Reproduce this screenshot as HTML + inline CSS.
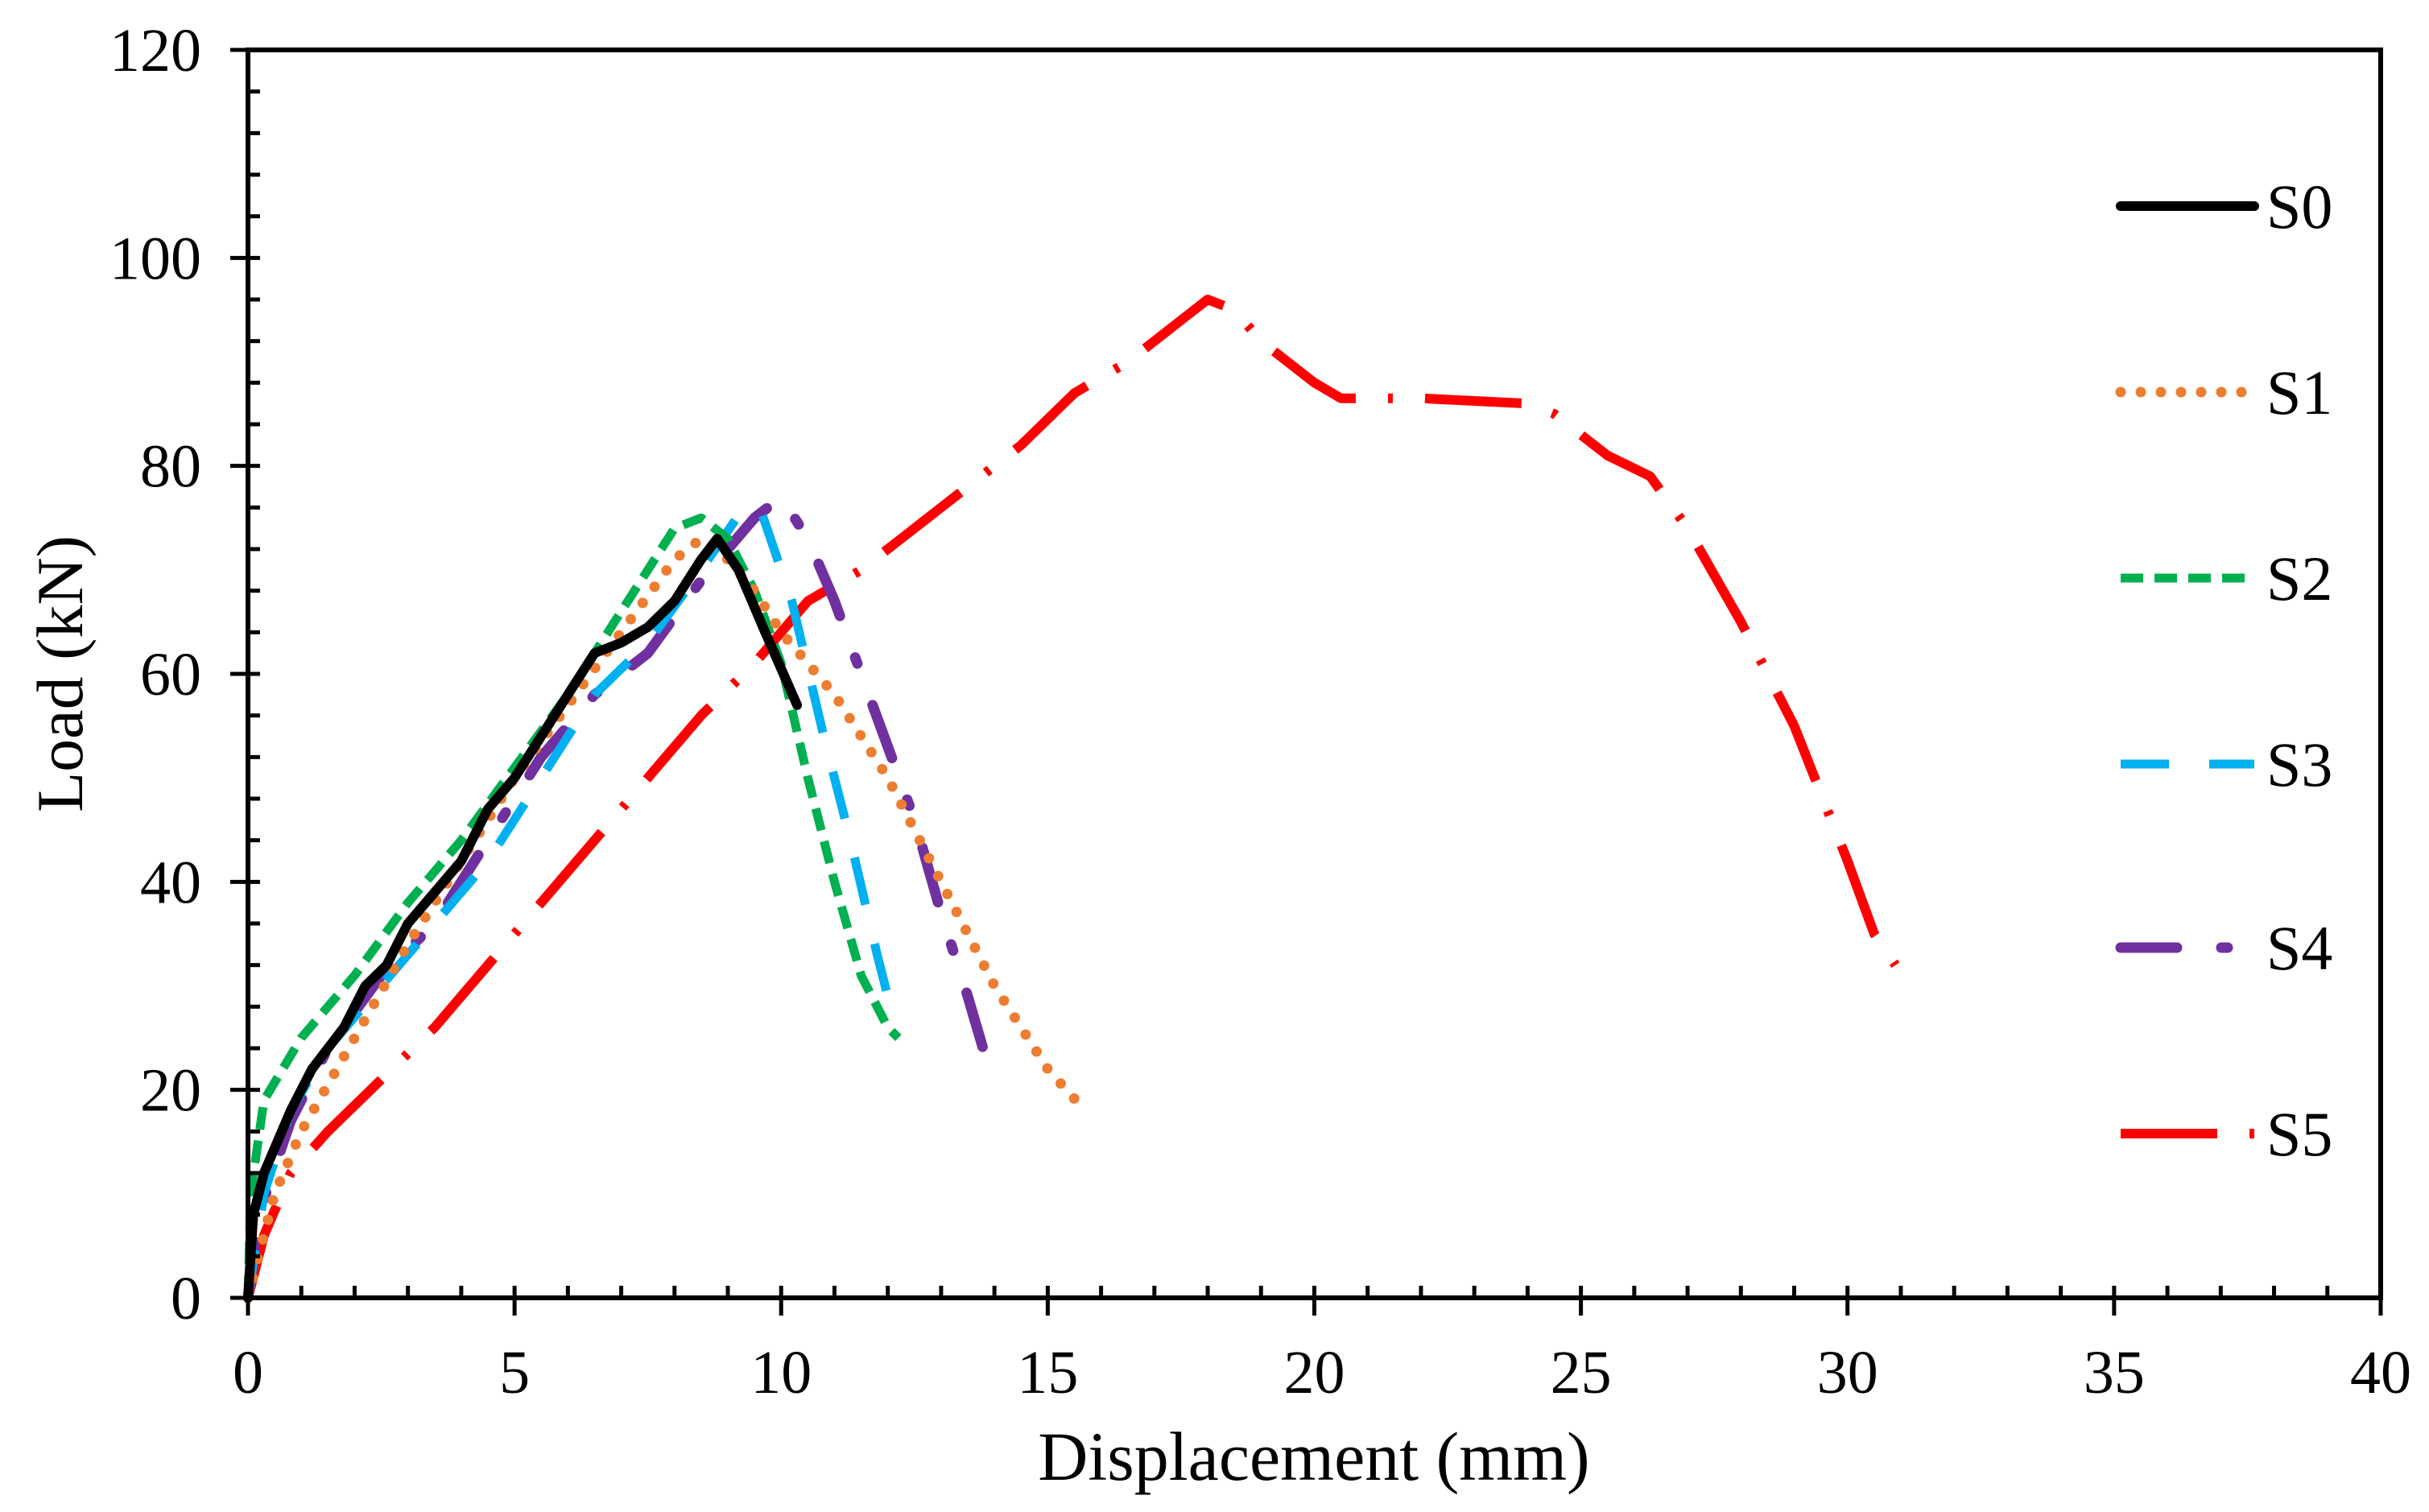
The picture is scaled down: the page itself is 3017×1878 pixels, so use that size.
<!DOCTYPE html>
<html><head><meta charset="utf-8">
<style>
html,body{margin:0;padding:0;background:#fff;}
svg{display:block;}
text{font-family:"Liberation Serif","Times New Roman",serif;fill:#000;}
</style></head>
<body>
<svg id="chart" width="3017" height="1878" viewBox="0 0 3017 1878" xmlns="http://www.w3.org/2000/svg">
<g id="series-layer"></g>
<g id="axes-layer"></g>
<g id="legend"></g>
<text x="1632" y="1838" font-size="86" text-anchor="middle">Displacement (mm)</text>
<text x="0" y="0" font-size="82" text-anchor="middle" transform="translate(102,837) rotate(-90)">Load (kN)</text>
</svg>
<script>
const seriesNames = ["S0","S1","S2","S3","S4","S5"];
const s0x = [0,0.1,0.3,0.8,1.2,1.8,2.2,2.6,3,3.5,4,4.5,5,5.5,6,6.5,7,7.5,8,8.5,8.8,9.2,9.7,10.3];
const s0y = [0,8,12,18,22,26,30,32,36,39,42,47,50,54,58,62,63,64.5,67,71,73,70,64,57];
const s1x = [0,0.5,1,2,3,4,5,6,7,8,8.5,9,9.5,10,11,12,13,14,15,15.7];
const s1y = [0,10,16,25,34,42,50,57,64,71,73,71,68,64,58,50,40,30,22,18];
const s2x = [0,0.05,0.3,1,2,3,4,5,6,7,8,8.5,9,9.5,10,10.5,11,11.5,12,12.2];
const s2y = [0,10,19,25,31,38,44,51,58,66,74,75,73,68,61,50,40,31,26,25];
const s3x = [0,0.3,0.8,1.5,2.5,3.5,4.5,5.5,6.5,7.5,8.5,9.3,9.6,10.2,10.8,11.3,11.8,12.1];
const s3y = [0,10,18,24,30,36,42,50,58,63,70,76,76,67,54,44,33,27];
const s4x = [0,0.2,0.8,1.5,2.5,3.5,4.5,5.5,6.5,7.5,8.5,9.5,10,10.5,11,11.5,12,12.5,13,13.5,13.9];
const s4y = [0,8,17,24,31,36,44,52,58,62,69,75,77,73,67,60,53,46,37,29,22];
const s5x = [0,0.3,0.8,1.5,2.5,3.5,4.5,5.5,6.5,7.5,8.5,9.5,10.5,11.5,12.5,13.5,14.5,15.5,16.5,17.5,18,18.5,19,20,20.5,22,24,24.5,25.5,26.3,27,28,29,30,30.5,30.9];
const s5y = [0,6,12,16,21,26,32,38,44,50,56,61,67,70,74,78,82,87,90,94,96,95,92,88,86.5,86.5,86,85,81,79,74,65,55,42,35,32];
const xTickLabels = ["0","5","10","15","20","25","30","35","40"];
const yTickLabels = ["0","20","40","60","80","100","120"];

const X0=308,X1=2957,Y0=1612,Y1=62,XMAX=40,YMAX=120;
const sx = v => X0 + (X1-X0)*v/XMAX;
const sy = v => Y0 - (Y0-Y1)*v/YMAX;
const NS="http://www.w3.org/2000/svg";
function mk(tag, attrs, parent){const e=document.createElementNS(NS,tag);for(const k in attrs)e.setAttribute(k,attrs[k]);parent.appendChild(e);return e;}

const styles = [
 {c:"#000000",w:12,d:"",cap:"round"},
 {c:"#ED7D31",w:13,d:"0 25",cap:"round"},
 {c:"#00B050",w:11,d:"28 14",cap:"butt"},
 {c:"#00B0F0",w:11,d:"60 50",cap:"butt"},
 {c:"#7030A0",w:13,d:"70 55 8 55",cap:"round"},
 {c:"#FF0000",w:12,d:"120 40 6 40",cap:"butt"}
];
const xs=[s0x,s1x,s2x,s3x,s4x,s5x], ys=[s0y,s1y,s2y,s3y,s4y,s5y];
const sl=document.getElementById('series-layer');
for(let i=5;i>=0;i--){
  const pts=xs[i].map((x,j)=>sx(x).toFixed(1)+","+sy(ys[i][j]).toFixed(1)).join(" ");
  const st=styles[i];
  const p=mk('polyline',{points:pts,fill:"none",stroke:st.c,"stroke-width":st.w,"stroke-dasharray":st.d,"stroke-linecap":st.cap,"stroke-linejoin":"round"},sl);
  
  
}

const ax=document.getElementById('axes-layer');
const frame=mk('rect',{x:X0,y:Y1,width:X1-X0,height:Y0-Y1,fill:"none",stroke:"#000","stroke-width":6},ax);


for(let v=0;v<=XMAX;v++){
  const x=sx(v), major=v%5===0;
  const t=mk('line',{x1:x,x2:x,y1:major?Y0+22:Y0,y2:Y0-15,stroke:"#000","stroke-width":5},ax);
  
  
}
xTickLabels.forEach((lab,i)=>{
  const t=mk('text',{x:sx(i*5),y:1730,"font-size":76,"text-anchor":"middle"},ax);
  t.textContent=lab;
  
  
});
for(let v=0;v<=YMAX;v+=4){
  const y=sy(v), major=v%20===0;
  const t=mk('line',{x1:major?X0-22:X0,x2:X0+15,y1:y,y2:y,stroke:"#000","stroke-width":5},ax);
  
  
}
yTickLabels.forEach((lab,i)=>{
  const t=mk('text',{x:250,y:sy(i*20)+26,"font-size":76,"text-anchor":"end"},ax);
  t.textContent=lab;
  
  
});

const lg=document.getElementById('legend');
const legY=[256,487,718,949,1177,1408];
seriesNames.forEach((n,i)=>{
  const st=styles[i];
  const ln=mk('line',{x1:2634,x2:2800,y1:legY[i],y2:legY[i],stroke:st.c,"stroke-width":st.w,"stroke-dasharray":st.d,"stroke-linecap":st.cap},lg);
  
  
  const t=mk('text',{x:2815,y:legY[i]+27,"font-size":78},lg);
  t.textContent=n;
  
  
});
</script>
</body></html>
